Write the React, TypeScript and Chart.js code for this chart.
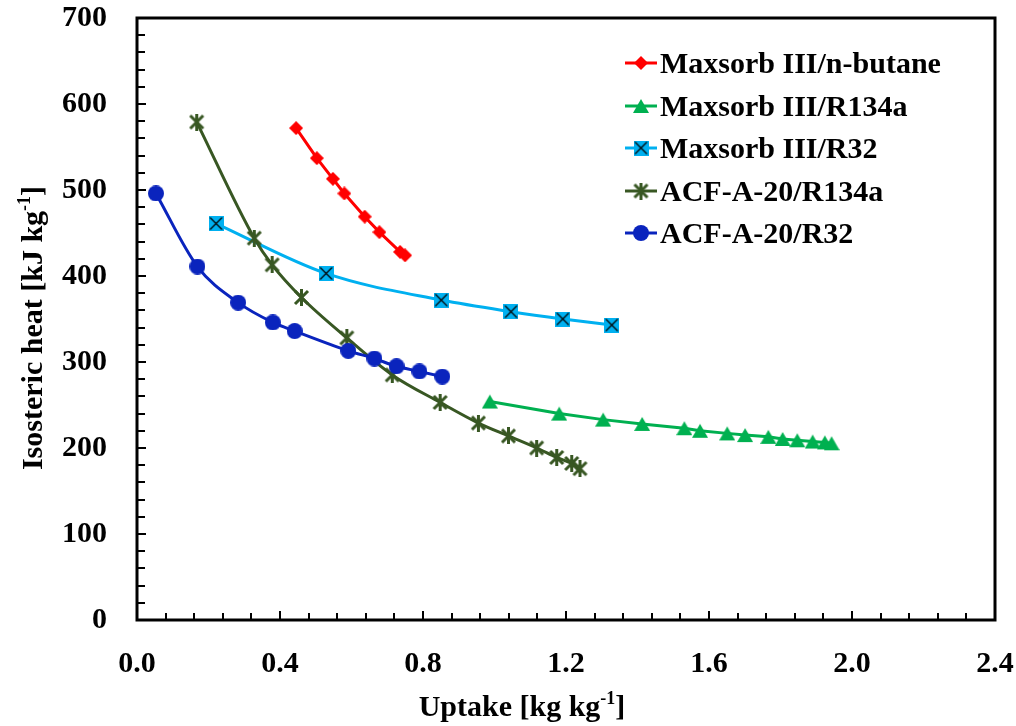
import { useEffect, useRef } from "react";
import { Chart, registerables } from "chart.js";

Chart.register(...registerables);

// Axis ranges and tick spacing
const X_MIN = 0;
const X_MAX = 2.4;
const X_STEP = 0.4;
const X_MINOR = 0.08;
const Y_MIN = 0;
const Y_MAX = 700;
const Y_STEP = 100;
const Y_MINOR = 20;

// Series labels (legend order)
const seriesLabels = [
  "Maxsorb III/n-butane",
  "Maxsorb III/R134a",
  "Maxsorb III/R32",
  "ACF-A-20/R134a",
  "ACF-A-20/R32",
];

// Maxsorb III / n-butane
const butaneUptake = [0.445, 0.503, 0.548, 0.58, 0.637, 0.678, 0.736, 0.75];
const butaneHeat = [572, 537, 513, 496, 469, 451, 428, 424];

// Maxsorb III / R134a
const msR134aUptake = [0.987, 1.181, 1.304, 1.413, 1.531, 1.575, 1.651, 1.701, 1.766, 1.806, 1.847, 1.89, 1.924, 1.943];
const msR134aHeat = [254, 240, 233, 228, 223, 220, 217, 215, 213, 210.5, 209, 207.5, 206.5, 205.5];

// Maxsorb III / R32
const msR32Uptake = [0.221, 0.529, 0.851, 1.046, 1.191, 1.328];
const msR32Heat = [461, 403, 372, 358.5, 350, 343];

// ACF-A-20 / R134a
const acfR134aUptake = [0.167, 0.328, 0.378, 0.46, 0.587, 0.714, 0.848, 0.955, 1.039, 1.118, 1.174, 1.216, 1.239];
const acfR134aHeat = [579, 444, 413, 375, 328, 285, 253, 229, 214, 200, 189, 182, 176];

// ACF-A-20 / R32
const acfR32Uptake = [0.053, 0.169, 0.283, 0.38, 0.441, 0.591, 0.664, 0.726, 0.79, 0.854];
const acfR32Heat = [496, 411, 369, 346, 336, 313, 304, 295, 289, 283];

const COLORS = ["#FF0000", "#00B050", "#00B0F0", "#385723", "#0A24BD"];
const FONT = "'Liberation Serif', 'Times New Roman', serif";
const FONT_SIZE = 30;

function pts(xs: number[], ys: number[]) {
  return xs.map((x, i) => ({ x, y: ys[i] }));
}

function marker(size: number, draw: (ctx: CanvasRenderingContext2D, s: number) => void) {
  const c = document.createElement("canvas");
  c.width = size;
  c.height = size;
  const ctx = c.getContext("2d")!;
  draw(ctx, size);
  return c;
}

function makeMarkers() {
  const diamond = marker(14, (ctx, s) => {
    ctx.fillStyle = COLORS[0];
    ctx.beginPath();
    ctx.moveTo(s / 2, 0);
    ctx.lineTo(s, s / 2);
    ctx.lineTo(s / 2, s);
    ctx.lineTo(0, s / 2);
    ctx.closePath();
    ctx.fill();
  });
  const triangle = marker(16, (ctx, s) => {
    ctx.fillStyle = COLORS[1];
    ctx.beginPath();
    ctx.moveTo(s / 2, 1);
    ctx.lineTo(s, s - 1);
    ctx.lineTo(0, s - 1);
    ctx.closePath();
    ctx.fill();
  });
  const squareX = marker(15, (ctx, s) => {
    ctx.fillStyle = COLORS[2];
    ctx.fillRect(0, 0, s, s);
    ctx.strokeStyle = "#000000";
    ctx.lineWidth = 1.2;
    ctx.beginPath();
    ctx.moveTo(1.5, 1.5);
    ctx.lineTo(s - 1.5, s - 1.5);
    ctx.moveTo(s - 1.5, 1.5);
    ctx.lineTo(1.5, s - 1.5);
    ctx.stroke();
  });
  const star = marker(17, (ctx, s) => {
    ctx.strokeStyle = COLORS[3];
    ctx.lineWidth = 3;
    ctx.beginPath();
    ctx.moveTo(2, 2);
    ctx.lineTo(s - 2, s - 2);
    ctx.moveTo(s - 2, 2);
    ctx.lineTo(2, s - 2);
    ctx.moveTo(s / 2, 0);
    ctx.lineTo(s / 2, s);
    ctx.stroke();
  });
  const circle = marker(16, (ctx, s) => {
    ctx.fillStyle = COLORS[4];
    ctx.beginPath();
    ctx.arc(s / 2, s / 2, s / 2, 0, Math.PI * 2);
    ctx.fill();
  });
  return [diamond, triangle, squareX, star, circle];
}

export default function App() {
  const canvasRef = useRef<HTMLCanvasElement | null>(null);

  useEffect(() => {
    const canvas = canvasRef.current;
    if (!canvas) return;
    const markers = makeMarkers();

    const seriesData = [
      pts(butaneUptake, butaneHeat),
      pts(msR134aUptake, msR134aHeat),
      pts(msR32Uptake, msR32Heat),
      pts(acfR134aUptake, acfR134aHeat),
      pts(acfR32Uptake, acfR32Heat),
    ];
    const smooth = [false, false, true, true, true];

    const datasets = seriesData.map((data, i) => ({
      label: seriesLabels[i],
      data,
      borderColor: COLORS[i],
      backgroundColor: COLORS[i],
      borderWidth: 3,
      pointStyle: markers[i] as any,
      pointRadius: 8,
      pointHoverRadius: 8,
      tension: smooth[i] ? 0.4 : 0,
      cubicInterpolationMode: (smooth[i] ? "monotone" : "default") as any,
      showLine: true,
      order: seriesLabels.length - i,
    }));

    // Plot frame with inward tick marks, axis titles and legend
    const framePlugin = {
      id: "frame",
      beforeDatasetsDraw(chart: any) {
        const { ctx, chartArea: a, scales } = chart;
        const xs = scales.x;
        const ys = scales.y;
        ctx.save();
        ctx.strokeStyle = "#000000";
        ctx.lineWidth = 2;
        ctx.beginPath();
        const nx = Math.round((X_MAX - X_MIN) / X_MINOR);
        for (let i = 0; i <= nx; i++) {
          const px = Math.round(xs.getPixelForValue(X_MIN + i * X_MINOR));
          const len = i % 5 === 0 ? 9 : 7;
          ctx.moveTo(px, a.bottom);
          ctx.lineTo(px, a.bottom - len);
        }
        const ny = Math.round((Y_MAX - Y_MIN) / Y_MINOR);
        for (let j = 0; j <= ny; j++) {
          const py = Math.round(ys.getPixelForValue(Y_MIN + j * Y_MINOR));
          const len = j % 5 === 0 ? 9 : 8;
          ctx.moveTo(a.left, py);
          ctx.lineTo(a.left + len, py);
        }
        ctx.stroke();
        ctx.lineWidth = 3;
        ctx.strokeRect(a.left, a.top, a.right - a.left, a.bottom - a.top);
        ctx.restore();
      },
      afterDraw(chart: any) {
        const { ctx } = chart;
        ctx.save();
        ctx.fillStyle = "#000000";
        ctx.textBaseline = "alphabetic";

        const drawTitle = (parts: [string, boolean][]) => {
          const big = `bold ${FONT_SIZE}px ${FONT}`;
          const small = `bold 18px ${FONT}`;
          let w = 0;
          for (const [t, sup] of parts) {
            ctx.font = sup ? small : big;
            w += ctx.measureText(t).width;
          }
          let x = -w / 2;
          for (const [t, sup] of parts) {
            ctx.font = sup ? small : big;
            ctx.textAlign = "left";
            ctx.fillText(t, x, sup ? -12 : 0);
            x += ctx.measureText(t).width;
          }
        };

        ctx.save();
        ctx.translate(522, 716);
        drawTitle([["Uptake [kg kg", false], ["-1", true], ["]", false]]);
        ctx.restore();

        ctx.save();
        ctx.translate(42, 328);
        ctx.rotate(-Math.PI / 2);
        drawTitle([["Isosteric heat [kJ kg", false], ["-1", true], ["]", false]]);
        ctx.restore();

        // Legend
        const lx0 = 625;
        const lx1 = 657;
        const rowY = [63, 106, 148, 191, 233];
        ctx.font = `bold ${FONT_SIZE}px ${FONT}`;
        ctx.textAlign = "left";
        ctx.textBaseline = "middle";
        chart.data.datasets.forEach((ds: any, i: number) => {
          const y = rowY[i];
          ctx.strokeStyle = ds.borderColor;
          ctx.lineWidth = 3;
          ctx.beginPath();
          ctx.moveTo(lx0, y);
          ctx.lineTo(lx1, y);
          ctx.stroke();
          const m = markers[i];
          ctx.drawImage(m, (lx0 + lx1) / 2 - m.width / 2, y - m.height / 2);
          ctx.fillStyle = "#000000";
          ctx.fillText(ds.label, 660, y + 2);
        });
        ctx.restore();
      },
    };

    const chart = new Chart(canvas, {
      type: "scatter",
      data: { datasets: datasets as any },
      options: {
        animation: false,
        responsive: false,
        devicePixelRatio: 1,
        layout: { padding: { top: 18, right: 21, left: 0, bottom: 0 } },
        plugins: {
          legend: { display: false },
          tooltip: { enabled: false },
        },
        scales: {
          x: {
            type: "linear",
            min: X_MIN,
            max: X_MAX,
            grid: { display: false },
            border: { display: false },
            ticks: {
              stepSize: X_STEP,
              padding: 18,
              color: "#000000",
              font: { family: FONT, size: FONT_SIZE, weight: "bold" },
              callback: (v: any) => Number(v).toFixed(1),
              maxRotation: 0,
            },
            afterFit: (s: any) => {
              s.height = 106;
              s.paddingLeft = 0;
              s.paddingRight = 0;
            },
          },
          y: {
            type: "linear",
            min: Y_MIN,
            max: Y_MAX,
            grid: { display: false },
            border: { display: false },
            ticks: {
              stepSize: Y_STEP,
              padding: 22,
              color: "#000000",
              font: { family: FONT, size: FONT_SIZE, weight: "bold" },
            },
            afterFit: (s: any) => {
              s.width = 137;
              s.paddingTop = 0;
              s.paddingBottom = 0;
            },
          },
        },
      },
      plugins: [framePlugin],
    });

    return () => chart.destroy();
  }, []);

  return (
    <div style={{ position: "absolute", left: 0, top: 0, width: 1016, height: 726, background: "#ffffff" }}>
      <canvas ref={canvasRef} width={1016} height={726} />
    </div>
  );
}
